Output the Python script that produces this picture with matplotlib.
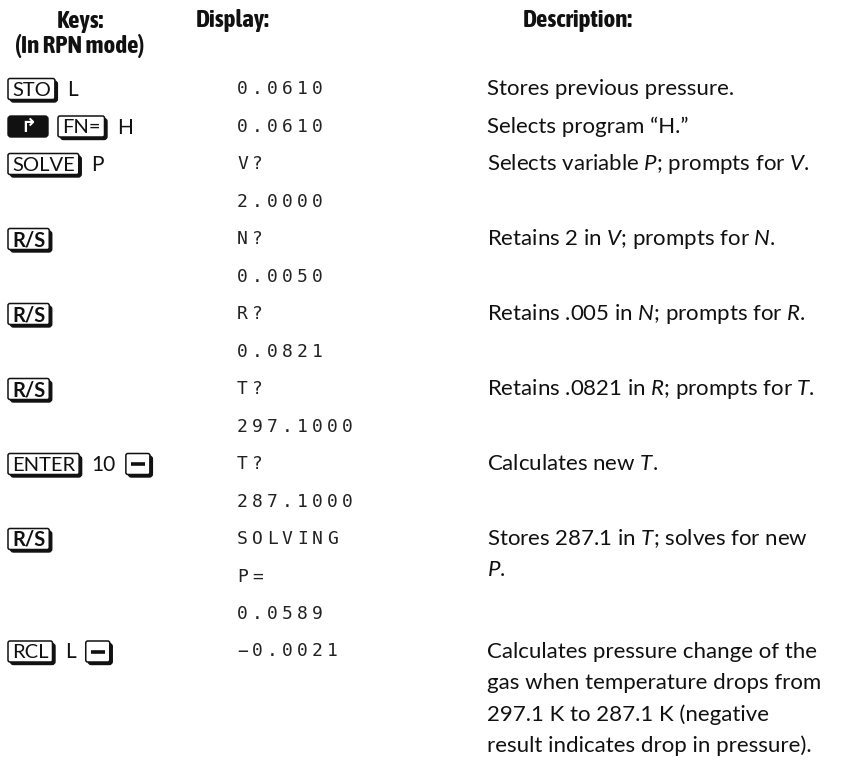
import matplotlib
matplotlib.use("Agg")
import matplotlib.pyplot as plt
from matplotlib.patches import FancyBboxPatch

# table content
HEADERS = ["Keys:\n(In RPN mode)", "Display:", "Description:"]

DISPLAY_LINES = ["0.0610", "0.0610", "V?", "2.0000", "N?", "0.0050", "R?", "0.0821",
                 "T?", "297.1000", "T?", "287.1000", "SOLVING", "P=", "0.0589", "−0.0021"]

KEY_ROWS = [0, 1, 2, 4, 6, 8, 10, 12, 15]
KEY_SEQS = [
    ["[STO]", "L"],
    ["[shift]", "[FN=]", "H"],
    ["[SOLVE]", "P"],
    ["[R/S]"],
    ["[R/S]"],
    ["[R/S]"],
    ["[ENTER]", "10", "[−]"],
    ["[R/S]"],
    ["[RCL]", "L", "[−]"],
]

DESC_ROWS = [0, 1, 2, 4, 6, 8, 10, 12, 15]
DESC_LINES = [
    ["Stores previous pressure."],
    ["Selects program “H.”"],
    ["Selects variable $P$; prompts for $V$."],
    ["Retains 2 in $V$; prompts for $N$."],
    ["Retains .005 in $N$; prompts for $R$."],
    ["Retains .0821 in $R$; prompts for $T$."],
    ["Calculates new $T$."],
    ["Stores 287.1 in $T$; solves for new", "$P$."],
    ["Calculates pressure change of the", "gas when temperature drops from",
     "297.1 K to 287.1 K (negative", "result indicates drop in pressure)."],
]

W, H = 843, 765
ROW0, PITCH, PARA = 89, 37.5, 31.5
KEY_X, DISP_X, DESC_X = 8, 237, 487
CHAR_PITCH = 15
BODY = ["Lato", "DejaVu Sans"]
INK = "#111111"

plt.rcParams["mathtext.fontset"] = "custom"
plt.rcParams["mathtext.rm"] = "Lato"
plt.rcParams["mathtext.it"] = "Lato:italic"

fig = plt.figure(figsize=(8.43, 7.65), dpi=100)
ax = fig.add_axes([0, 0, 1, 1])
ax.set_xlim(0, W)
ax.set_ylim(H, 0)
ax.axis("off")
renderer = fig.canvas.get_renderer()

# headers (condensed bold face, falls back to Roboto)
hfont = dict(family=["Asap Condensed", "Archivo Narrow", "Roboto"], fontweight="bold",
             fontsize=18, color=INK, ha="center", va="center", linespacing=1.1)
ax.text(80, 34, HEADERS[0], **hfont)
ax.text(233, 20, HEADERS[1], **hfont)
ax.text(578, 20, HEADERS[2], **hfont)


def row_y(i):
    return ROW0 + i * PITCH


def draw_key(x, y, label):
    h, pad, sh = 21, 4, 2.5
    if label == "shift":
        w = 40
        ax.add_patch(FancyBboxPatch((x, y - h / 2), w, h, boxstyle="round,pad=0,rounding_size=3",
                                    fc=INK, ec=INK, lw=1))
        ax.text(x + w / 2, y, "↱", color="white", fontsize=14, fontweight="bold",
                ha="center", va="center", family="DejaVu Sans")
        return x + w
    bold = label == "R/S"
    if label == "−":
        w = 24
        t = None
    else:
        t = ax.text(x + pad, y + 1, label, fontsize=14.5, family=BODY, color=INK,
                    fontweight="bold" if bold else "normal", ha="left", va="center", zorder=3)
        w = t.get_window_extent(renderer).width + 2 * pad
    ax.add_patch(FancyBboxPatch((x + sh, y - h / 2 + sh), w, h,
                                boxstyle="round,pad=0,rounding_size=3", fc=INK, ec=INK, lw=1, zorder=1))
    ax.add_patch(FancyBboxPatch((x, y - h / 2), w, h, boxstyle="round,pad=0,rounding_size=2",
                                fc="white", ec=INK, lw=1.1, zorder=2))
    if t is None:
        ax.plot([x + 5, x + w - 5], [y, y], color=INK, lw=2.6, solid_capstyle="butt", zorder=3)
    return x + w + sh


for r, seq in zip(KEY_ROWS, KEY_SEQS):
    y = row_y(r)
    x = KEY_X
    for tok in seq:
        if tok.startswith("["):
            x = draw_key(x, y, tok[1:-1]) + 10
        else:
            t = ax.text(x, y + 1, tok, fontsize=15, family=BODY, color=INK, ha="left", va="center")
            x += t.get_window_extent(renderer).width + 10

# display column, fixed-pitch LCD characters
for i, s in enumerate(DISPLAY_LINES):
    for k, ch in enumerate(s):
        ax.text(DISP_X + k * CHAR_PITCH, row_y(i), ch, fontsize=13, family="DejaVu Sans Mono",
                color="#222222", ha="left", va="center")

# description column
for r, lines in zip(DESC_ROWS, DESC_LINES):
    for j, s in enumerate(lines):
        ax.text(DESC_X, row_y(r) + j * PARA, s, fontsize=16, family=BODY, color=INK,
                ha="left", va="center")

fig.savefig("out.png", dpi=100)
